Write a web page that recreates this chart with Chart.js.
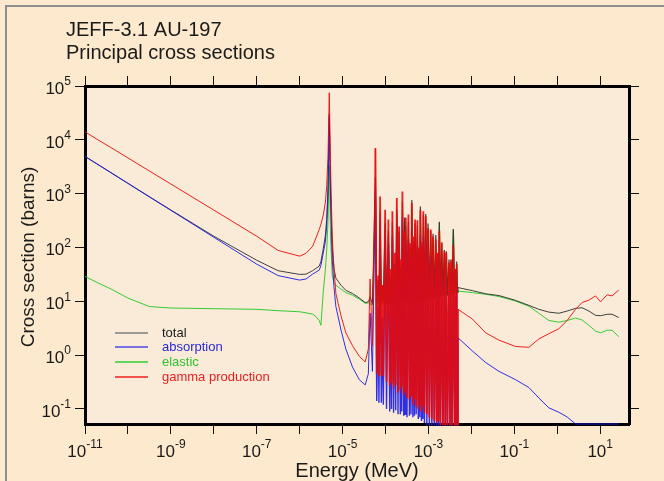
<!DOCTYPE html>
<html lang="en">
<head>
    <meta charset="UTF-8">
    <title>JEFF-3.1 AU-197 - Principal cross sections</title>
    <script src="https://cdn.jsdelivr.net/npm/chart.js"></script>
    <style>
        body {
            margin: 0;
            background-color: #fde9cd;
        }
        #wrap {
            width: 664px;
            height: 481px;
        }
    </style>
</head>
<body>
    <div id="wrap"><canvas id="myChart" width="664" height="481"></canvas></div>

    <script>
        // Energy grid (MeV), shared by all four curves
        const energy = [
            // thermal + 4.9 eV resonance
            1e-11, 2e-11, 4e-11, 1e-10, 3.16e-10, 1e-9, 1e-8, 1e-7, 3.16e-7, 1e-6,
            1.41e-6, 2e-6, 2.4e-6, 2.85e-6, 3.13e-6, 3.55e-6, 3.98e-6, 4.27e-6, 4.57e-6, 4.79e-6,
            4.9e-6, 5.25e-6, 5.75e-6, 6.31e-6, 6.98e-6, 9.12e-6, 1.19e-5, 1.70e-5, 2.45e-5, 3.36e-5,
            3.98e-5, 4.37e-5, 4.95e-5,
            // resolved resonances
            5.82e-5, 6.24e-5, 6.73e-5, 7.03e-5, 7.48e-5, 7.98e-5, 8.47e-5, 8.89e-5, 9.80e-5, 1.055e-4,
            1.167e-4, 1.253e-4, 1.321e-4, 1.380e-4, 1.445e-4, 1.542e-4, 1.637e-4, 1.726e-4, 1.832e-4, 1.954e-4,
            2.070e-4, 2.208e-4, 2.307e-4, 2.382e-4, 2.472e-4, 2.649e-4, 2.780e-4, 2.858e-4, 2.965e-4, 3.162e-4,
            3.412e-4, 3.597e-4, 3.776e-4, 3.918e-4, 4.093e-4, 4.335e-4, 4.571e-4, 4.721e-4, 4.875e-4, 5.176e-4,
            5.521e-4, 5.794e-4, 6.081e-4, 6.281e-4, 6.486e-4, 6.871e-4, 7.211e-4, 7.413e-4, 7.603e-4, 8.072e-4,
            8.650e-4, 9.183e-4, 9.795e-4, 1.050e-3, 1.130e-3, 1.199e-3, 1.279e-3, 1.365e-3, 1.479e-3, 1.552e-3,
            1.629e-3, 1.710e-3, 1.791e-3, 1.901e-3, 2.037e-3, 2.173e-3, 2.344e-3, 2.460e-3, 2.606e-3, 2.767e-3,
            3.013e-3, 3.177e-3, 3.357e-3, 3.540e-3, 3.793e-3, 4.064e-3, 4.266e-3, 4.406e-3, 4.550e-3, 4.721e-3,
            4.875e-3,
            // fast range
            1.05e-2, 2.15e-2, 4.39e-2, 0.107, 0.219, 0.373, 0.638, 1.09, 1.70, 2.67,
            3.79, 5.43, 7.78, 10.2, 14.5, 18.9, 27.1
        ];

        const total = [
            4930, 3490, 2470, 1560, 878, 498, 162, 58, 37, 31.6,
            32, 37, 41, 45, 55, 95, 170, 350, 1250, 10100,
            30000, 1050, 90, 40, 27, 20, 16, 14, 11.5, 9.5,
            9.8, 12, 9,
            2000, 9, 25, 9, 450, 9, 20, 9.5, 280, 9,
            200, 9, 30, 9.5, 300, 9, 50, 9.5, 500, 9,
            200, 9.5, 45, 10, 700, 9, 360, 10, 250, 9.5,
            300, 9.5, 100, 10, 760, 9.5, 130, 10, 280, 10,
            260, 10, 90, 10.5, 580, 10, 110, 10.5, 400, 10.5,
            420, 11, 280, 11, 200, 11.5, 180, 11.5, 170, 12,
            75, 12, 300, 12.5, 120, 12.5, 90, 13, 85, 13,
            60, 13.5, 55, 14, 220, 14, 40, 14.5, 55, 15,
            18,
            15.8, 13.8, 12.8, 10.4, 8.4, 7.1, 6.3, 6.0, 6.6, 7.4,
            7.6, 6.6, 5.5, 5.4, 5.75, 5.75, 5.0
        ];

        const absorption = [
            4900, 3470, 2450, 1550, 870, 490, 155, 49, 30, 24.8,
            26, 32, 35, 38, 46, 80, 130, 262, 950, 8600,
            26000, 900, 60, 18, 8, 3, 1.3, 0.6, 0.35, 0.28,
            0.45, 6, 0.5,
            1200, 0.14, 8, 0.13, 300, 0.13, 5, 0.12, 170, 0.1,
            110, 0.09, 12, 0.1, 160, 0.085, 25, 0.095, 280, 0.08,
            80, 0.08, 20, 0.09, 370, 0.075, 70, 0.08, 120, 0.07,
            140, 0.075, 40, 0.08, 230, 0.07, 55, 0.075, 110, 0.08,
            105, 0.065, 35, 0.07, 170, 0.06, 40, 0.065, 160, 0.055,
            120, 0.05, 75, 0.045, 70, 0.04, 55, 0.04, 45, 0.035,
            25, 0.04, 60, 0.03, 40, 0.03, 28, 0.03, 25, 0.03,
            17, 0.03, 20, 0.03, 35, 0.03, 13, 0.03, 16, 0.03,
            2.1,
            1.2, 0.73, 0.5, 0.35, 0.25, 0.16, 0.105, 0.087, 0.071, 0.0526,
            0.0526, 0.0526, 0.0526, 0.0526, 0.0526, 0.0526, 0.0526
        ];

        const elastic = [
            29, 22, 17, 11.5, 8, 7.5, 7.3, 7.1, 6.7, 6.4,
            6.1, 5.8, 5.2, 4.4, 3.6, 15, 40, 90, 300, 1500,
            3300, 150, 30, 22, 20, 17, 14.5, 13, 11, 9.2,
            9.3, 9, 8.5,
            800, 8.5, 17, 8.6, 150, 8.7, 15, 9, 110, 8.5,
            90, 8.5, 18, 9, 140, 8.5, 25, 9, 220, 8.5,
            120, 9, 25, 9.5, 330, 8.5, 290, 9.5, 130, 9,
            160, 9, 60, 9.5, 530, 9, 75, 9.5, 170, 9.5,
            155, 9.5, 55, 10, 410, 9.5, 70, 10, 240, 10,
            300, 10.5, 200, 10.5, 130, 11, 125, 11, 125, 11.5,
            50, 11.5, 290, 12, 80, 12, 62, 12.5, 60, 12.5,
            43, 13, 35, 13.5, 215, 13.5, 27, 14, 40, 14.5,
            15.5,
            14.5, 13.5, 12.3, 10.1, 8.1, 6.0, 4.4, 4.1, 4.4, 4.9,
            4.5, 3.6, 2.8, 2.6, 2.9, 2.9, 2.2
        ];

        const gammaProduction = [
            14100, 10000, 7200, 4620, 2640, 1510, 495, 162, 88, 69,
            78, 105, 150, 215, 270, 400, 700, 1400, 5000, 30000,
            75000, 3000, 150, 40, 14, 5.5, 2.6, 1.5, 0.95, 0.75,
            1.3, 26, 1.5,
            7000, 0.45, 30, 0.4, 890, 0.42, 20, 0.4, 500, 0.32,
            330, 0.27, 40, 0.3, 470, 0.24, 80, 0.28, 830, 0.2,
            245, 0.22, 60, 0.26, 1100, 0.18, 200, 0.21, 355, 0.16,
            410, 0.15, 120, 0.17, 680, 0.12, 160, 0.15, 330, 0.11,
            320, 0.1, 100, 0.12, 500, 0.09, 125, 0.11, 470, 0.085,
            380, 0.08, 230, 0.07, 215, 0.065, 160, 0.06, 140, 0.055,
            80, 0.06, 200, 0.05, 125, 0.05, 85, 0.045, 80, 0.05,
            52, 0.045, 60, 0.05, 110, 0.045, 40, 0.05, 49, 0.05,
            7.1,
            4.7, 2.6, 1.9, 1.45, 1.4, 2.0, 2.5, 3.1, 4.4, 7.1,
            9.5, 10.5, 12.6, 9.8, 13.2, 12.6, 16.2
        ];

        // tick decades (powers of ten) and which ones get a label
        const xTickPowers = [-11, -10, -9, -8, -7, -6, -5, -4, -3, -2, -1, 0, 1];
        const xLabelPowers = [-11, -9, -7, -5, -3, -1, 1];
        const yTickPowers = [-1, 0, 1, 2, 3, 4, 5];
        const yLabelPowers = [-1, 0, 1, 2, 3, 4, 5];

        const X_MIN = 1e-11, X_MAX = 46.9;
        const Y_MIN = 0.0526, Y_MAX = 1e5;
        // resolved resonance band, where the curves are packed tightly
        const RRR_LOW = 5.5e-5, RRR_HIGH = 4.9e-3;
        const FONT = '"Liberation Sans", Arial, sans-serif';

        const series = [
            { label: 'total', values: total, color: 'rgba(45,45,45,0.9)', legendLine: '#7d7d7d', text: '#1a1a1a', order: 2, dense: 1.2 },
            { label: 'absorption', values: absorption, color: 'rgba(25,25,230,0.9)', legendLine: '#4a4ae8', text: '#2828d8', order: 1, dense: 1.4 },
            { label: 'elastic', values: elastic, color: 'rgba(30,200,30,0.9)', legendLine: '#2fd02f', text: '#30c030', order: 3, dense: 1.2 },
            { label: 'gamma production', values: gammaProduction, color: 'rgba(232,10,10,0.9)', legendLine: '#f02020', text: '#e82020', order: 0, dense: 1.8 }
        ];

        // "10" with a raised exponent
        function drawPower(ctx, p, x, y, align) {
            ctx.font = '17px ' + FONT;
            const wb = ctx.measureText('10').width;
            ctx.font = '12px ' + FONT;
            const we = ctx.measureText(String(p)).width;
            const left = align === 'right' ? x - wb - we : x - (wb + we) / 2;
            ctx.textAlign = 'left';
            ctx.textBaseline = 'middle';
            ctx.font = '17px ' + FONT;
            ctx.fillText('10', left, y);
            ctx.font = '12px ' + FONT;
            ctx.fillText(String(p), left + wb, y - 7);
        }

        const backdrop = {
            id: 'backdrop',
            beforeDraw(chart) {
                const { ctx, chartArea: a, width, height } = chart;
                ctx.save();
                ctx.fillStyle = '#fde9cd';
                ctx.fillRect(0, 0, width, height);
                ctx.strokeStyle = '#8e8e8e';
                ctx.lineWidth = 2;
                ctx.beginPath();
                ctx.moveTo(6, height);
                ctx.lineTo(6, 6);
                ctx.lineTo(width, 6);
                ctx.stroke();
                ctx.fillStyle = '#f9ebd8';
                ctx.fillRect(a.left, a.top, a.right - a.left, a.bottom - a.top);
                ctx.restore();
            }
        };

        const annotations = {
            id: 'annotations',
            afterDraw(chart) {
                const ctx = chart.ctx;
                const xs = chart.scales.x, ys = chart.scales.y;
                ctx.save();
                ctx.fillStyle = '#1a1a1a';

                // titles
                ctx.font = '20px ' + FONT;
                ctx.textAlign = 'left';
                ctx.textBaseline = 'alphabetic';
                ctx.fillText('JEFF-3.1 AU-197', 66, 36);
                ctx.fillText('Principal cross sections', 66, 59);

                ctx.textAlign = 'center';
                ctx.fillText('Energy (MeV)', 357, 477);

                ctx.save();
                ctx.font = '19px ' + FONT;
                ctx.translate(29, 257);
                ctx.rotate(-Math.PI / 2);
                ctx.textBaseline = 'middle';
                ctx.fillText('Cross section (barns)', 0, 0);
                ctx.restore();

                // tick labels
                xLabelPowers.forEach(p => drawPower(ctx, p, xs.getPixelForValue(Math.pow(10, p)), 452, 'center'));
                yLabelPowers.forEach(p => drawPower(ctx, p, 71, ys.getPixelForValue(Math.pow(10, p)) + 3, 'right'));

                // legend inside the plot
                const ly = [333, 347, 362, 377];
                ctx.font = '13px ' + FONT;
                ctx.textAlign = 'left';
                ctx.textBaseline = 'middle';
                series.forEach((s, i) => {
                    ctx.strokeStyle = s.legendLine;
                    ctx.lineWidth = 1.6;
                    ctx.beginPath();
                    ctx.moveTo(115, ly[i]);
                    ctx.lineTo(148, ly[i]);
                    ctx.stroke();
                    ctx.fillStyle = s.text;
                    ctx.fillText(s.label, 162, ly[i]);
                });
                ctx.restore();
            }
        };

        function decadeTicks(powers) {
            return axis => { axis.ticks = powers.map(p => ({ value: Math.pow(10, p) })); };
        }

        function logAxis(position, min, max, powers, size) {
            const horizontal = position === 'top' || position === 'bottom';
            return {
                type: 'logarithmic',
                position: position,
                min: min,
                max: max,
                afterBuildTicks: decadeTicks(powers),
                afterFit: axis => {
                    if (horizontal) axis.height = size; else axis.width = size;
                },
                ticks: { display: false },
                grid: {
                    drawOnChartArea: false,
                    drawTicks: true,
                    tickLength: 10,
                    color: '#111',
                    lineWidth: 1
                },
                border: { display: true, color: '#000', width: 3 }
            };
        }

        const ctx = document.getElementById('myChart').getContext('2d');
        new Chart(ctx, {
            type: 'line',
            data: {
                datasets: series.map(s => ({
                    label: s.label,
                    data: energy.map((e, i) => ({ x: e, y: s.values[i] })),
                    borderColor: s.color,
                    borderWidth: 1,
                    pointRadius: 0,
                    tension: 0,
                    fill: false,
                    order: s.order,
                    // let lines that sit on the lower frame show over it
                    clip: { left: 0, top: 0, right: 0, bottom: 1.5 },
                    segment: {
                        // thicker strokes inside the resonance forest
                        borderWidth: c => (c.p0.parsed.x >= RRR_LOW && c.p1.parsed.x <= RRR_HIGH) ? s.dense : 1
                    }
                }))
            },
            options: {
                responsive: false,
                animation: false,
                devicePixelRatio: 1,
                events: [],
                layout: { padding: 0 },
                scales: {
                    x: logAxis('bottom', X_MIN, X_MAX, xTickPowers, 57),
                    x2: logAxis('top', X_MIN, X_MAX, xTickPowers, 86),
                    y: logAxis('left', Y_MIN, Y_MAX, yTickPowers, 85),
                    y2: logAxis('right', Y_MIN, Y_MAX, yTickPowers, 35)
                },
                plugins: {
                    legend: { display: false },
                    tooltip: { enabled: false }
                }
            },
            plugins: [backdrop, annotations]
        });
    </script>
</body>
</html>
